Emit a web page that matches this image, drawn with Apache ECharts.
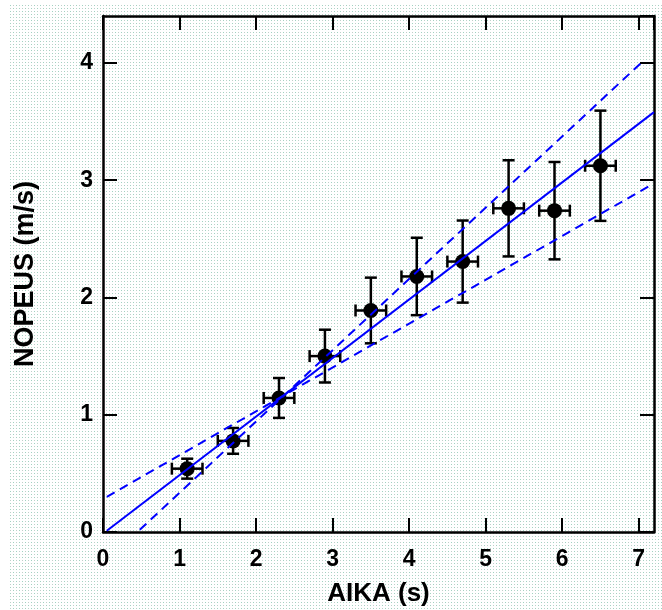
<!DOCTYPE html>
<html>
<head>
<meta charset="utf-8">
<script src="https://cdn.jsdelivr.net/npm/echarts@6/dist/echarts.min.js"></script>
<style>
html, body { margin: 0; padding: 0; background: #ffffff; }
#bg { position: absolute; left: 10px; top: 5px; width: 652px; height: 605px; }
#chart { position: absolute; left: 0; top: 0; width: 662px; height: 610px; }
</style>
</head>
<body>
<div id="bg"></div>
<div id="chart"></div>
<script>
// ---- data ----
const timeX   = [1.1, 1.7, 2.3, 2.9, 3.5, 4.1, 4.7, 5.3, 5.9, 6.5];
const speedY  = [0.54, 0.777, 1.143, 1.50, 1.889, 2.179, 2.306, 2.76, 2.74, 3.123];
const timeErr = [0.2, 0.2, 0.2, 0.2, 0.2, 0.2, 0.2, 0.2, 0.2, 0.2];
const speedErr = [0.085, 0.11, 0.17, 0.225, 0.28, 0.33, 0.35, 0.41, 0.415, 0.47];
const fitX = [0.05, 7.2];
const fitY = [0.01, 3.58];
const steepX = [0.05, 7.04];
const steepY = [-0.243, 4.005];
const flatX = [0.05, 7.13];
const flatY = [0.30, 2.947];
const xTicks = [0, 1, 2, 3, 4, 5, 6, 7];
const yTicks = [0, 1, 2, 3, 4];

// background dot pattern
(function () {
  const c = document.createElement('canvas');
  c.width = 6; c.height = 6;
  const g = c.getContext('2d');
  g.fillStyle = '#9fd3c1'; g.fillRect(0, 0, 1, 1); g.fillRect(3, 3, 1, 1);
  g.fillStyle = '#c2cec9'; g.fillRect(3, 0, 1, 1); g.fillRect(0, 3, 1, 1);
  document.getElementById('bg').style.backgroundImage = 'url(' + c.toDataURL() + ')';
})();

const FONT = '"Liberation Sans", Arial, sans-serif';
const errData = timeX.map((x, i) => [x, speedY[i], timeErr[i], speedErr[i]]);
const pts = timeX.map((x, i) => [x, speedY[i]]);
const pairs = (xs, ys) => xs.map((x, i) => [x, ys[i]]);

const chart = echarts.init(document.getElementById('chart'), null, { renderer: 'canvas' });
const axisCommon = {
  type: 'value',
  splitLine: { show: false },
  axisLine: { show: true, onZero: false, lineStyle: { color: '#000', width: 2.5 } },
  axisTick: { show: true, inside: true, length: 14, lineStyle: { color: '#000', width: 2 } }
};
chart.setOption({
  animation: false,
  backgroundColor: 'transparent',
  grid: { left: 103, right: 8, top: 16, bottom: 78, containLabel: false, outerBoundsMode: 'none' },
  xAxis: [
    Object.assign({}, axisCommon, {
      min: 0, max: 7.2, interval: 1, position: 'bottom',
      name: 'AIKA (s)', nameLocation: 'middle', nameGap: 49,
      nameTextStyle: { fontFamily: FONT, fontWeight: 'bold', fontSize: 26, color: '#000' },
      axisLabel: { margin: 16, fontFamily: FONT, fontWeight: 'bold', fontSize: 23, color: '#000',
        showMaxLabel: false,
        formatter: v => (xTicks.indexOf(v) >= 0 ? String(v) : '') }
    }),
    Object.assign({}, axisCommon, {
      min: 0, max: 7.2, interval: 1, position: 'top', axisLabel: { show: false }
    })
  ],
  yAxis: [
    Object.assign({}, axisCommon, {
      min: 0, max: 4.4, interval: 1, position: 'left',
      name: 'NOPEUS (m/s)', nameLocation: 'middle', nameGap: 64,
      nameTextStyle: { fontFamily: FONT, fontWeight: 'bold', fontSize: 27, color: '#000' },
      axisLabel: { margin: 10, fontFamily: FONT, fontWeight: 'bold', fontSize: 23, color: '#000',
        showMaxLabel: false,
        formatter: v => (yTicks.indexOf(v) >= 0 ? String(v) : '') }
    }),
    Object.assign({}, axisCommon, {
      min: 0, max: 4.4, interval: 1, position: 'right', axisLabel: { show: false }
    })
  ],
  series: [
    {
      type: 'custom', name: 'errors', xAxisIndex: 0, yAxisIndex: 0,
      data: errData, encode: { x: 0, y: 1 }, z: 2,
      renderItem: function (params, api) {
        const x = api.value(0), y = api.value(1), ex = api.value(2), ey = api.value(3);
        const t = api.coord([x, y + ey]), b = api.coord([x, y - ey]);
        const l = api.coord([x - ex, y]), r = api.coord([x + ex, y]);
        const cap = 6;
        const st = { stroke: '#000', lineWidth: 2.5 };
        const ln = (x1, y1, x2, y2) => ({ type: 'line', shape: { x1, y1, x2, y2 }, style: st });
        return { type: 'group', children: [
          ln(t[0], t[1], b[0], b[1]),
          ln(t[0] - cap, t[1], t[0] + cap, t[1]),
          ln(b[0] - cap, b[1], b[0] + cap, b[1]),
          ln(l[0], l[1], r[0], r[1]),
          ln(l[0], l[1] - cap, l[0], l[1] + cap),
          ln(r[0], r[1] - cap, r[0], r[1] + cap)
        ] };
      }
    },
    {
      type: 'scatter', name: 'points', data: pts, symbol: 'circle', symbolSize: 15, z: 3,
      itemStyle: { color: '#000', opacity: 1 }
    },
    {
      type: 'line', name: 'fit', data: pairs(fitX, fitY), symbol: 'none', z: 4, clip: true,
      lineStyle: { color: '#0000ff', width: 2 }
    },
    {
      type: 'line', name: 'upper', data: pairs(steepX, steepY), symbol: 'none', z: 4, clip: true,
      lineStyle: { color: '#0000ff', width: 2, type: [9, 6] }
    },
    {
      type: 'line', name: 'lower', data: pairs(flatX, flatY), symbol: 'none', z: 4, clip: true,
      lineStyle: { color: '#0000ff', width: 2, type: [9, 6] }
    }
  ]
});
</script>
</body>
</html>
